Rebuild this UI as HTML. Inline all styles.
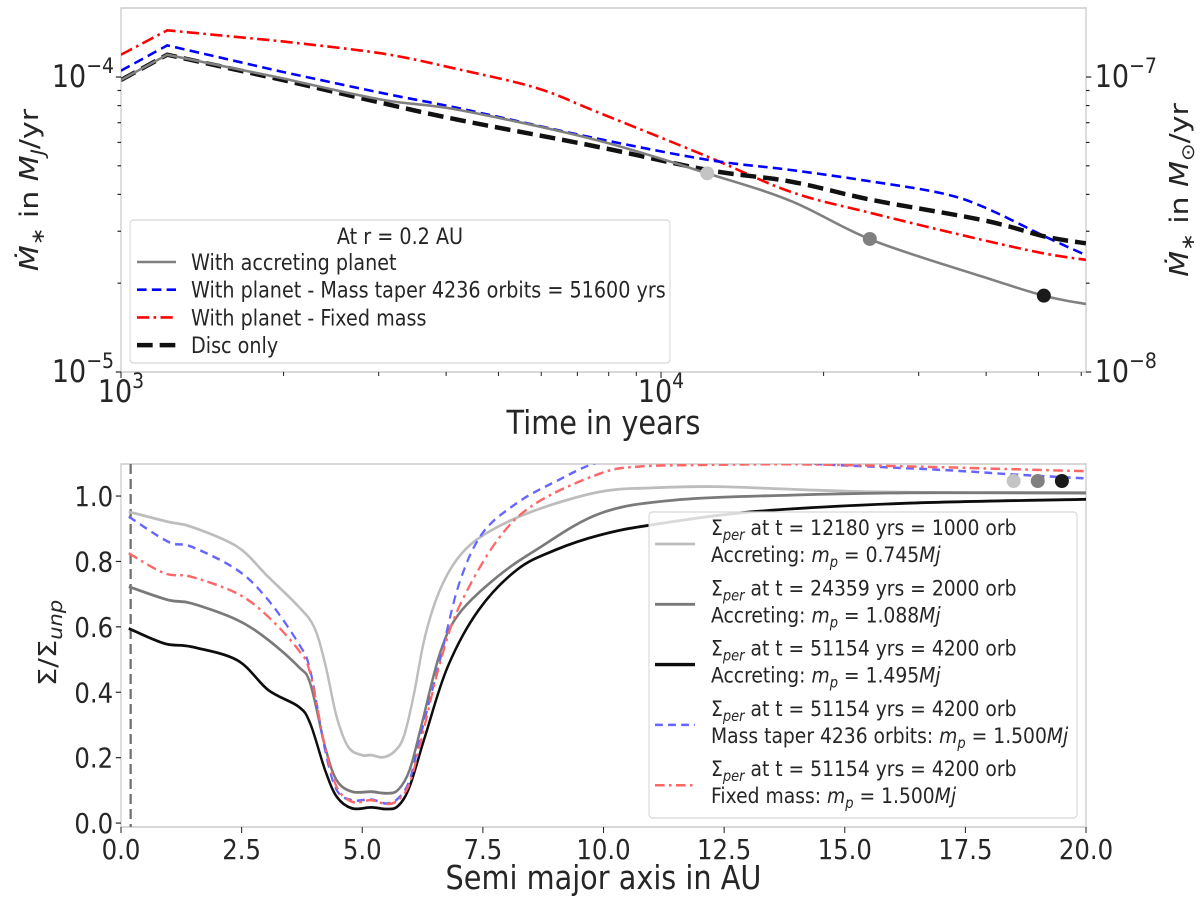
<!DOCTYPE html>
<html><head><meta charset="utf-8"><style>
html,body{margin:0;padding:0;background:#fff;}
svg{display:block;}
text{font-family:"DejaVu Sans","Liberation Sans",sans-serif;fill:#262626;}
</style></head><body>
<svg id="fig" xmlns="http://www.w3.org/2000/svg" width="1200" height="899" viewBox="0 0 1377.7 899" preserveAspectRatio="none"></svg>
<script>
// ---------- TOP CHART DATA (accretion rate at r=0.2 AU, M_J/yr) ----------
const topTimes = [1000, 1218, 1995, 3055, 4230, 7600, 12200, 17400, 24600, 39500, 51400, 61200];
const topAccreting = [9.77e-5, 1.19e-4, 9.89e-5, 8.36e-5, 7.73e-5, 6.11e-5, 4.71e-5, 3.80e-5, 2.80e-5, 2.10e-5, 1.81e-5, 1.70e-5];
const topDisc = [9.77e-5, 1.19e-4, 9.77e-5, 8.15e-5, 7.15e-5, 5.81e-5, 4.84e-5, 4.42e-5, 3.83e-5, 3.27e-5, 2.88e-5, 2.73e-5];
const topTaperT = [1000, 1218, 1995, 3055, 4230, 7600, 12200, 17400, 24600, 33000, 39500, 51400, 61200];
const topTaper = [1.05e-4, 1.28e-4, 1.04e-4, 8.81e-5, 7.83e-5, 6.19e-5, 5.24e-5, 4.84e-5, 4.42e-5, 4.04e-5, 3.63e-5, 2.88e-5, 2.49e-5];
const topFixedT = [1000, 1218, 1995, 3055, 4230, 5900, 7600, 12200, 17400, 24600, 39500, 51400, 61200];
const topFixed = [1.19e-4, 1.44e-4, 1.32e-4, 1.20e-4, 1.06e-4, 9.16e-5, 7.62e-5, 5.37e-5, 4.08e-5, 3.45e-5, 2.80e-5, 2.52e-5, 2.40e-5];
const markerTimes = [12180, 24359, 51154];
const markerColors = ["#c4c4c4", "#808080", "#1a1a1a"];
const topXTicks = [1000, 10000];
const topXTickLabels = ["3", "4"];
const topYTicks = [1e-5, 1e-4];
const topYTickLabels = ["−5", "−4"];
const topY2TickLabels = ["−8", "−7"];

// ---------- BOTTOM CHART DATA (Sigma/Sigma_unp vs a) ----------
const aLight = [0.16,0.98,1.46,2.41,3.05,3.68,4.0,4.23,4.47,4.71,4.99,5.19,5.42,5.66,5.86,6.06,6.30,6.61,7.01,7.57,8.60,9.93,11.0,12.3,14.0,15.5,17.5,20.0];
const sLight = [0.952,0.921,0.906,0.845,0.753,0.662,0.600,0.488,0.325,0.233,0.208,0.208,0.201,0.218,0.264,0.386,0.570,0.713,0.815,0.886,0.957,1.013,1.025,1.029,1.020,1.013,1.010,1.008];
const aMid = [0.16,0.98,1.46,2.41,3.05,3.68,3.92,4.23,4.47,4.79,5.19,5.50,5.74,5.98,6.22,6.61,7.01,7.80,8.60,9.93,11.5,13.9,16.3,20.0];
const sMid = [0.723,0.682,0.672,0.621,0.560,0.478,0.427,0.233,0.131,0.096,0.096,0.091,0.101,0.162,0.295,0.519,0.641,0.753,0.835,0.947,0.988,1.003,1.010,1.010];
const aBlack = [0.16,0.90,1.46,2.41,3.05,3.68,3.92,4.23,4.47,4.79,5.19,5.50,5.74,5.98,6.30,6.77,7.41,8.20,9.0,9.93,10.96,13.1,16.3,20.0];
const sBlack = [0.595,0.549,0.539,0.498,0.407,0.356,0.305,0.162,0.081,0.045,0.048,0.043,0.052,0.111,0.264,0.478,0.651,0.774,0.835,0.881,0.911,0.952,0.978,0.990];
const aTaper = [0.16,0.98,1.46,2.41,3.05,3.68,3.92,4.23,4.47,4.79,5.19,5.50,5.74,5.98,6.22,6.61,7.01,7.49,8.20,9.0,9.93,11.0,13.0,14.7,17.0,18.5,20.0];
const sTaper = [0.937,0.860,0.845,0.774,0.682,0.549,0.468,0.223,0.101,0.070,0.072,0.060,0.075,0.131,0.274,0.498,0.733,0.886,0.978,1.044,1.105,1.120,1.110,1.096,1.080,1.066,1.054];
const aFixed = [0.16,0.90,1.46,2.41,3.05,3.68,3.92,4.23,4.47,4.79,5.19,5.50,5.74,5.98,6.22,6.61,7.01,7.80,8.60,9.93,10.72,12.0,14.0,16.5,18.5,20.0];
const sFixed = [0.825,0.764,0.753,0.702,0.631,0.529,0.458,0.233,0.111,0.065,0.070,0.058,0.070,0.121,0.254,0.488,0.662,0.865,0.978,1.069,1.090,1.095,1.097,1.090,1.082,1.076];
const dotA = [18.5, 19.0, 19.5];
const dotS = [1.046, 1.046, 1.046];
const botXTicks = [0, 2.5, 5, 7.5, 10, 12.5, 15, 17.5, 20];
const botXTickLabels = ["0.0","2.5","5.0","7.5","10.0","12.5","15.0","17.5","20.0"];
const botYTicks = [0, 0.2, 0.4, 0.6, 0.8, 1.0];
const botYTickLabels = ["0.0","0.2","0.4","0.6","0.8","1.0"];

const K = 3/2.613;
const NS = "http://www.w3.org/2000/svg";
const svg = document.getElementById('fig');
function mk(tag, attrs, parent){
  const el = document.createElementNS(NS, tag);
  for (const k in attrs) el.setAttribute(k, attrs[k]);
  (parent||svg).appendChild(el);
  return el;
}
function sup(parent, base, exp, fs){
  const t1 = mk('tspan', {}, parent); t1.textContent = base;
  const t2 = mk('tspan', {dy: -fs*0.45, 'font-size': fs*0.7}, parent); t2.textContent = exp;
}
// smooth path (Catmull-Rom) for points from index start onward; straight before
function smooth(pts, start){
  let d = 'M' + pts[0][0].toFixed(1) + ',' + pts[0][1].toFixed(1);
  for (let i=0;i<pts.length-1;i++){
    const p1 = pts[i], p2 = pts[i+1];
    if (i < start){ d += 'L' + p2[0].toFixed(1) + ',' + p2[1].toFixed(1); continue; }
    const p0 = pts[Math.max(i-1, start)], p3 = pts[Math.min(i+2, pts.length-1)];
    const c1x = p1[0] + (p2[0]-p0[0])/6, c1y = p1[1] + (p2[1]-p0[1])/6;
    const c2x = p2[0] - (p3[0]-p1[0])/6, c2y = p2[1] - (p3[1]-p1[1])/6;
    d += 'C' + c1x.toFixed(1) + ',' + c1y.toFixed(1) + ' ' + c2x.toFixed(1) + ',' + c2y.toFixed(1) + ' ' + p2[0].toFixed(1) + ',' + p2[1].toFixed(1);
  }
  return d;
}

// ---------- TOP AXES ----------
const tL = 121*K, tR = 1086*K, tT = 8, tB = 372;
const tLogMin = 3, tLogMax = 4.787, yLogMin = -5, yLogMax = -5 + (372-8)/295;
function tx(t){ return tL + (Math.log10(t)-tLogMin)/(tLogMax-tLogMin)*(tR-tL); }
function ty(v){ return tB - (Math.log10(v)-yLogMin)/(yLogMax-yLogMin)*(tB-tT); }

const topFrame = mk('rect', {x:tL, y:tT, width:tR-tL, height:tB-tT, fill:'none', stroke:'#cccccc', 'stroke-width':1.5});



for (let d=3; d<=4; d++){
  for (let m=1; m<=9; m++){
    const t = m*Math.pow(10,d);
    if (Math.log10(t) > tLogMax) continue;
    const len = m===1 ? 6 : 4;
    const tk = mk('line', {x1:tx(t), x2:tx(t), y1:tB, y2:tB+len, stroke:'#262626', 'stroke-width':1.2});
    
    
  }
}
topXTicks.forEach((t,i)=>{
  const lb = mk('text', {x:tx(t), y:402, 'font-size':31, 'text-anchor':'middle'});
  
  
  sup(lb, '10', topXTickLabels[i], 31);
});
for (let d=-5; d<=-4; d++){
  for (let m=1; m<=9; m++){
    const v = m*Math.pow(10,d);
    if (Math.log10(v) > yLogMax) continue;
    const len = m===1 ? 6 : 4;
    const tk = mk('line', {x1:tL-len, x2:tL, y1:ty(v), y2:ty(v), stroke:'#262626', 'stroke-width':1.2});
    
    
    const tk2 = mk('line', {x1:tR, x2:tR+len, y1:ty(v), y2:ty(v), stroke:'#262626', 'stroke-width':1.2});
    
    
  }
}
topYTicks.forEach((v,i)=>{
  const lb = mk('text', {x:tL-8, y:ty(v)+10, 'font-size':31, 'text-anchor':'end'});
  
  
  sup(lb, '10', topYTickLabels[i], 31);
  const lb2 = mk('text', {x:tR+10, y:ty(v)+10, 'font-size':31, 'text-anchor':'start'});
  
  
  sup(lb2, '10', topY2TickLabels[i], 31);
});

function pathLog(ts, vs){ return smooth(ts.map((t,i)=>[tx(t), ty(vs[i])]), 2); }
const cpTop = mk('clipPath', {id:'cpTop'});
mk('rect', {x:tL, y:tT, width:tR-tL, height:tB-tT}, cpTop);
const gTop = mk('g', {'clip-path':'url(#cpTop)'});



const lFixed = mk('path', {d:pathLog(topFixedT, topFixed), fill:'none', stroke:'#ff0000', 'stroke-width':2.6, 'stroke-dasharray':'14,5,3,5'}, gTop);


const lTaper = mk('path', {d:pathLog(topTaperT, topTaper), fill:'none', stroke:'#0000ff', 'stroke-width':2.6, 'stroke-dasharray':'11,6'}, gTop);


const lDisc = mk('path', {d:pathLog(topTimes, topDisc), fill:'none', stroke:'#111111', 'stroke-width':4.5, 'stroke-dasharray':'18,8'}, gTop);


const lAcc = mk('path', {d:pathLog(topTimes, topAccreting), fill:'none', stroke:'#808080', 'stroke-width':2.6}, gTop);



function interpAcc(t){
  const lt = Math.log10(t);
  for (let i=0;i<topTimes.length-1;i++){
    const a = Math.log10(topTimes[i]), b = Math.log10(topTimes[i+1]);
    if (lt>=a && lt<=b){
      const f = (lt-a)/(b-a);
      return Math.pow(10, Math.log10(topAccreting[i])*(1-f)+Math.log10(topAccreting[i+1])*f);
    }
  }
  return topAccreting[topAccreting.length-1];
}
markerTimes.forEach((t,i)=>{
  const c = mk('ellipse', {cx:tx(t), cy:ty(interpAcc(t)), rx:7*K, ry:7, fill:markerColors[i]}, gTop);
  
  
});

// top legend
const tLeg = mk('g', {});


mk('rect', {x:130*K, y:220, width:540*K, height:143, rx:4, fill:'#ffffff', 'fill-opacity':0.85, stroke:'#d6d6d6', 'stroke-width':1.2}, tLeg);
const tLegTitle = mk('text', {x:400*K, y:244, 'font-size':22, 'text-anchor':'middle'}, tLeg);
tLegTitle.textContent = 'At r = 0.2 AU';


const tLegItems = [
  ['With accreting planet', '#808080', 2.6, ''],
  ['With planet - Mass taper 4236 orbits = 51600 yrs', '#0000ff', 2.6, '11,6'],
  ['With planet - Fixed mass', '#ff0000', 2.6, '14,5,3,5'],
  ['Disc only', '#111111', 4.5, '18,8']
];
tLegItems.forEach((it,i)=>{
  const y = 262 + i*27.7;
  const ln = mk('line', {x1:137*K, x2:176*K, y1:y, y2:y, stroke:it[1], 'stroke-width':it[2], 'stroke-dasharray':it[3]||'none'}, tLeg);
  
  
  const tt = mk('text', {x:191*K, y:y+8, 'font-size':22}, tLeg);
  tt.textContent = it[0];
  
  
});

const txl = mk('text', {x:(tL+tR)/2, y:434, 'font-size':33, 'text-anchor':'middle'});
txl.textContent = 'Time in years';


function mdotLabel(x, y, sub, name){
  const t = mk('text', {x:x, y:y, 'font-size':30, 'text-anchor':'middle', transform:`rotate(-90 ${x} ${y})`});
  
  
  const a = mk('tspan', {'font-style':'italic'}, t); a.textContent = 'Ṁ';
  const b = mk('tspan', {dy:7, 'font-size':21}, t); b.textContent = '∗';
  const c = mk('tspan', {dy:-7}, t); c.textContent = ' in ';
  const d = mk('tspan', {'font-style':'italic'}, t); d.textContent = 'M';
  const e = mk('tspan', {dy:7, 'font-size':21, 'font-style': sub==='J'?'italic':'normal'}, t); e.textContent = sub;
  const f = mk('tspan', {dy:-7}, t); f.textContent = '/yr';
}
mdotLabel(38*K, 190, 'J', 'top-y-axis-title');
mdotLabel(1188*K, 190, '⊙', 'top-y2-axis-title');

// ---------- BOTTOM AXES ----------
const bL = 121*K, bR = 1086*K, bT = 464, bB = 827;
const bYmin = -0.012, bYmax = 1.098;
function bx(a){ return bL + a/20*(bR-bL); }
function by(v){ return bB - (v-bYmin)/(bYmax-bYmin)*(bB-bT); }

const botFrame = mk('rect', {x:bL, y:bT, width:bR-bL, height:bB-bT, fill:'none', stroke:'#cccccc', 'stroke-width':1.5});



botXTicks.forEach((a,i)=>{
  const tk = mk('line', {x1:bx(a), x2:bx(a), y1:bB, y2:bB+6, stroke:'#262626', 'stroke-width':1.2});
  
  
  const lb = mk('text', {x:bx(a), y:859, 'font-size':28, 'text-anchor':'middle'});
  lb.textContent = botXTickLabels[i];
  
  
});
botYTicks.forEach((v,i)=>{
  const tk = mk('line', {x1:bL-6, x2:bL, y1:by(v), y2:by(v), stroke:'#262626', 'stroke-width':1.2});
  
  
  const lb = mk('text', {x:bL-9, y:by(v)+10, 'font-size':28, 'text-anchor':'end'});
  lb.textContent = botYTickLabels[i];
  
  
});

const cpBot = mk('clipPath', {id:'cpBot'});
mk('rect', {x:bL, y:bT, width:bR-bL, height:bB-bT}, cpBot);
const gBot = mk('g', {'clip-path':'url(#cpBot)'});


function pathLin(as, vs){ return smooth(as.map((a,i)=>[bx(a), by(vs[i])]), 0); }

const vline = mk('line', {x1:bx(0.2), x2:bx(0.2), y1:bT, y2:bB, stroke:'#707070', 'stroke-width':2.6, 'stroke-dasharray':'10,5'}, gBot);



const curves = [
  [aLight, sLight, '#bdbdbd', 2.8, '', 'profile-1000-orbits'],
  [aMid, sMid, '#7a7a7a', 2.8, '', 'profile-2000-orbits'],
  [aBlack, sBlack, '#0d0d0d', 2.8, '', 'profile-4200-orbits'],
  [aTaper, sTaper, '#6666ff', 2.5, '9,6', 'profile-mass-taper'],
  [aFixed, sFixed, '#ff6666', 2.5, '11,5,3,5', 'profile-fixed-mass']
];
curves.forEach(c=>{
  const p = mk('path', {d:pathLin(c[0], c[1]), fill:'none', stroke:c[2], 'stroke-width':c[3], 'stroke-dasharray':c[4]||'none', 'stroke-linejoin':'round'}, gBot);
  
  
});
dotA.forEach((a,i)=>{
  const c = mk('ellipse', {cx:bx(a), cy:by(dotS[i]), rx:7*K, ry:7, fill:markerColors[i]}, gBot);
  
  
});

// bottom legend
const bLeg = mk('g', {});


mk('rect', {x:649*K, y:512, width:428*K, height:306, rx:4, fill:'#ffffff', 'fill-opacity':0.85, stroke:'#d6d6d6', 'stroke-width':1.2}, bLeg);
const bLegItems = [
  ['12180','1000','Accreting: ','0.745','#bdbdbd','', 2.8],
  ['24359','2000','Accreting: ','1.088','#7a7a7a','', 2.8],
  ['51154','4200','Accreting: ','1.495','#0d0d0d','', 3.4],
  ['51154','4200','Mass taper 4236 orbits: ','1.500','#6666ff','9,6', 2.5],
  ['51154','4200','Fixed mass: ','1.500','#ff6666','11,5,3,5', 2.5]
];
bLegItems.forEach((it,i)=>{
  const y = 544 + i*60.3;
  const ln = mk('line', {x1:655*K, x2:695*K, y1:y, y2:y, stroke:it[4], 'stroke-width':it[6], 'stroke-dasharray':it[5]||'none'}, bLeg);
  
  
  const t1 = mk('text', {x:711*K, y:y-9, 'font-size':21.5}, bLeg);
  
  
  const s1 = mk('tspan', {}, t1); s1.textContent = 'Σ';
  const s2 = mk('tspan', {dy:5, 'font-size':15, 'font-style':'italic'}, t1); s2.textContent = 'per';
  const s3 = mk('tspan', {dy:-5}, t1); s3.textContent = ` at t = ${it[0]} yrs = ${it[1]} orb`;
  const t2 = mk('text', {x:711*K, y:y+18, 'font-size':21.5}, bLeg);
  
  
  const r1 = mk('tspan', {}, t2); r1.textContent = it[2];
  const r2 = mk('tspan', {'font-style':'italic'}, t2); r2.textContent = 'm';
  const r3 = mk('tspan', {dy:5, 'font-size':15, 'font-style':'italic'}, t2); r3.textContent = 'p';
  const r4 = mk('tspan', {dy:-5}, t2); r4.textContent = ' = ' + it[3];
  const r5 = mk('tspan', {'font-style':'italic'}, t2); r5.textContent = 'Mj';
});

const bxl = mk('text', {x:(bL+bR)/2, y:889, 'font-size':33, 'text-anchor':'middle'});
bxl.textContent = 'Semi major axis in AU';


const byl = mk('text', {x:56*K, y:643, 'font-size':29, 'text-anchor':'middle', transform:`rotate(-90 ${56*K} 643)`});


const y1 = mk('tspan', {}, byl); y1.textContent = 'Σ/Σ';
const y2 = mk('tspan', {dy:7, 'font-size':21, 'font-style':'italic'}, byl); y2.textContent = 'unp';
</script>
</body></html>
